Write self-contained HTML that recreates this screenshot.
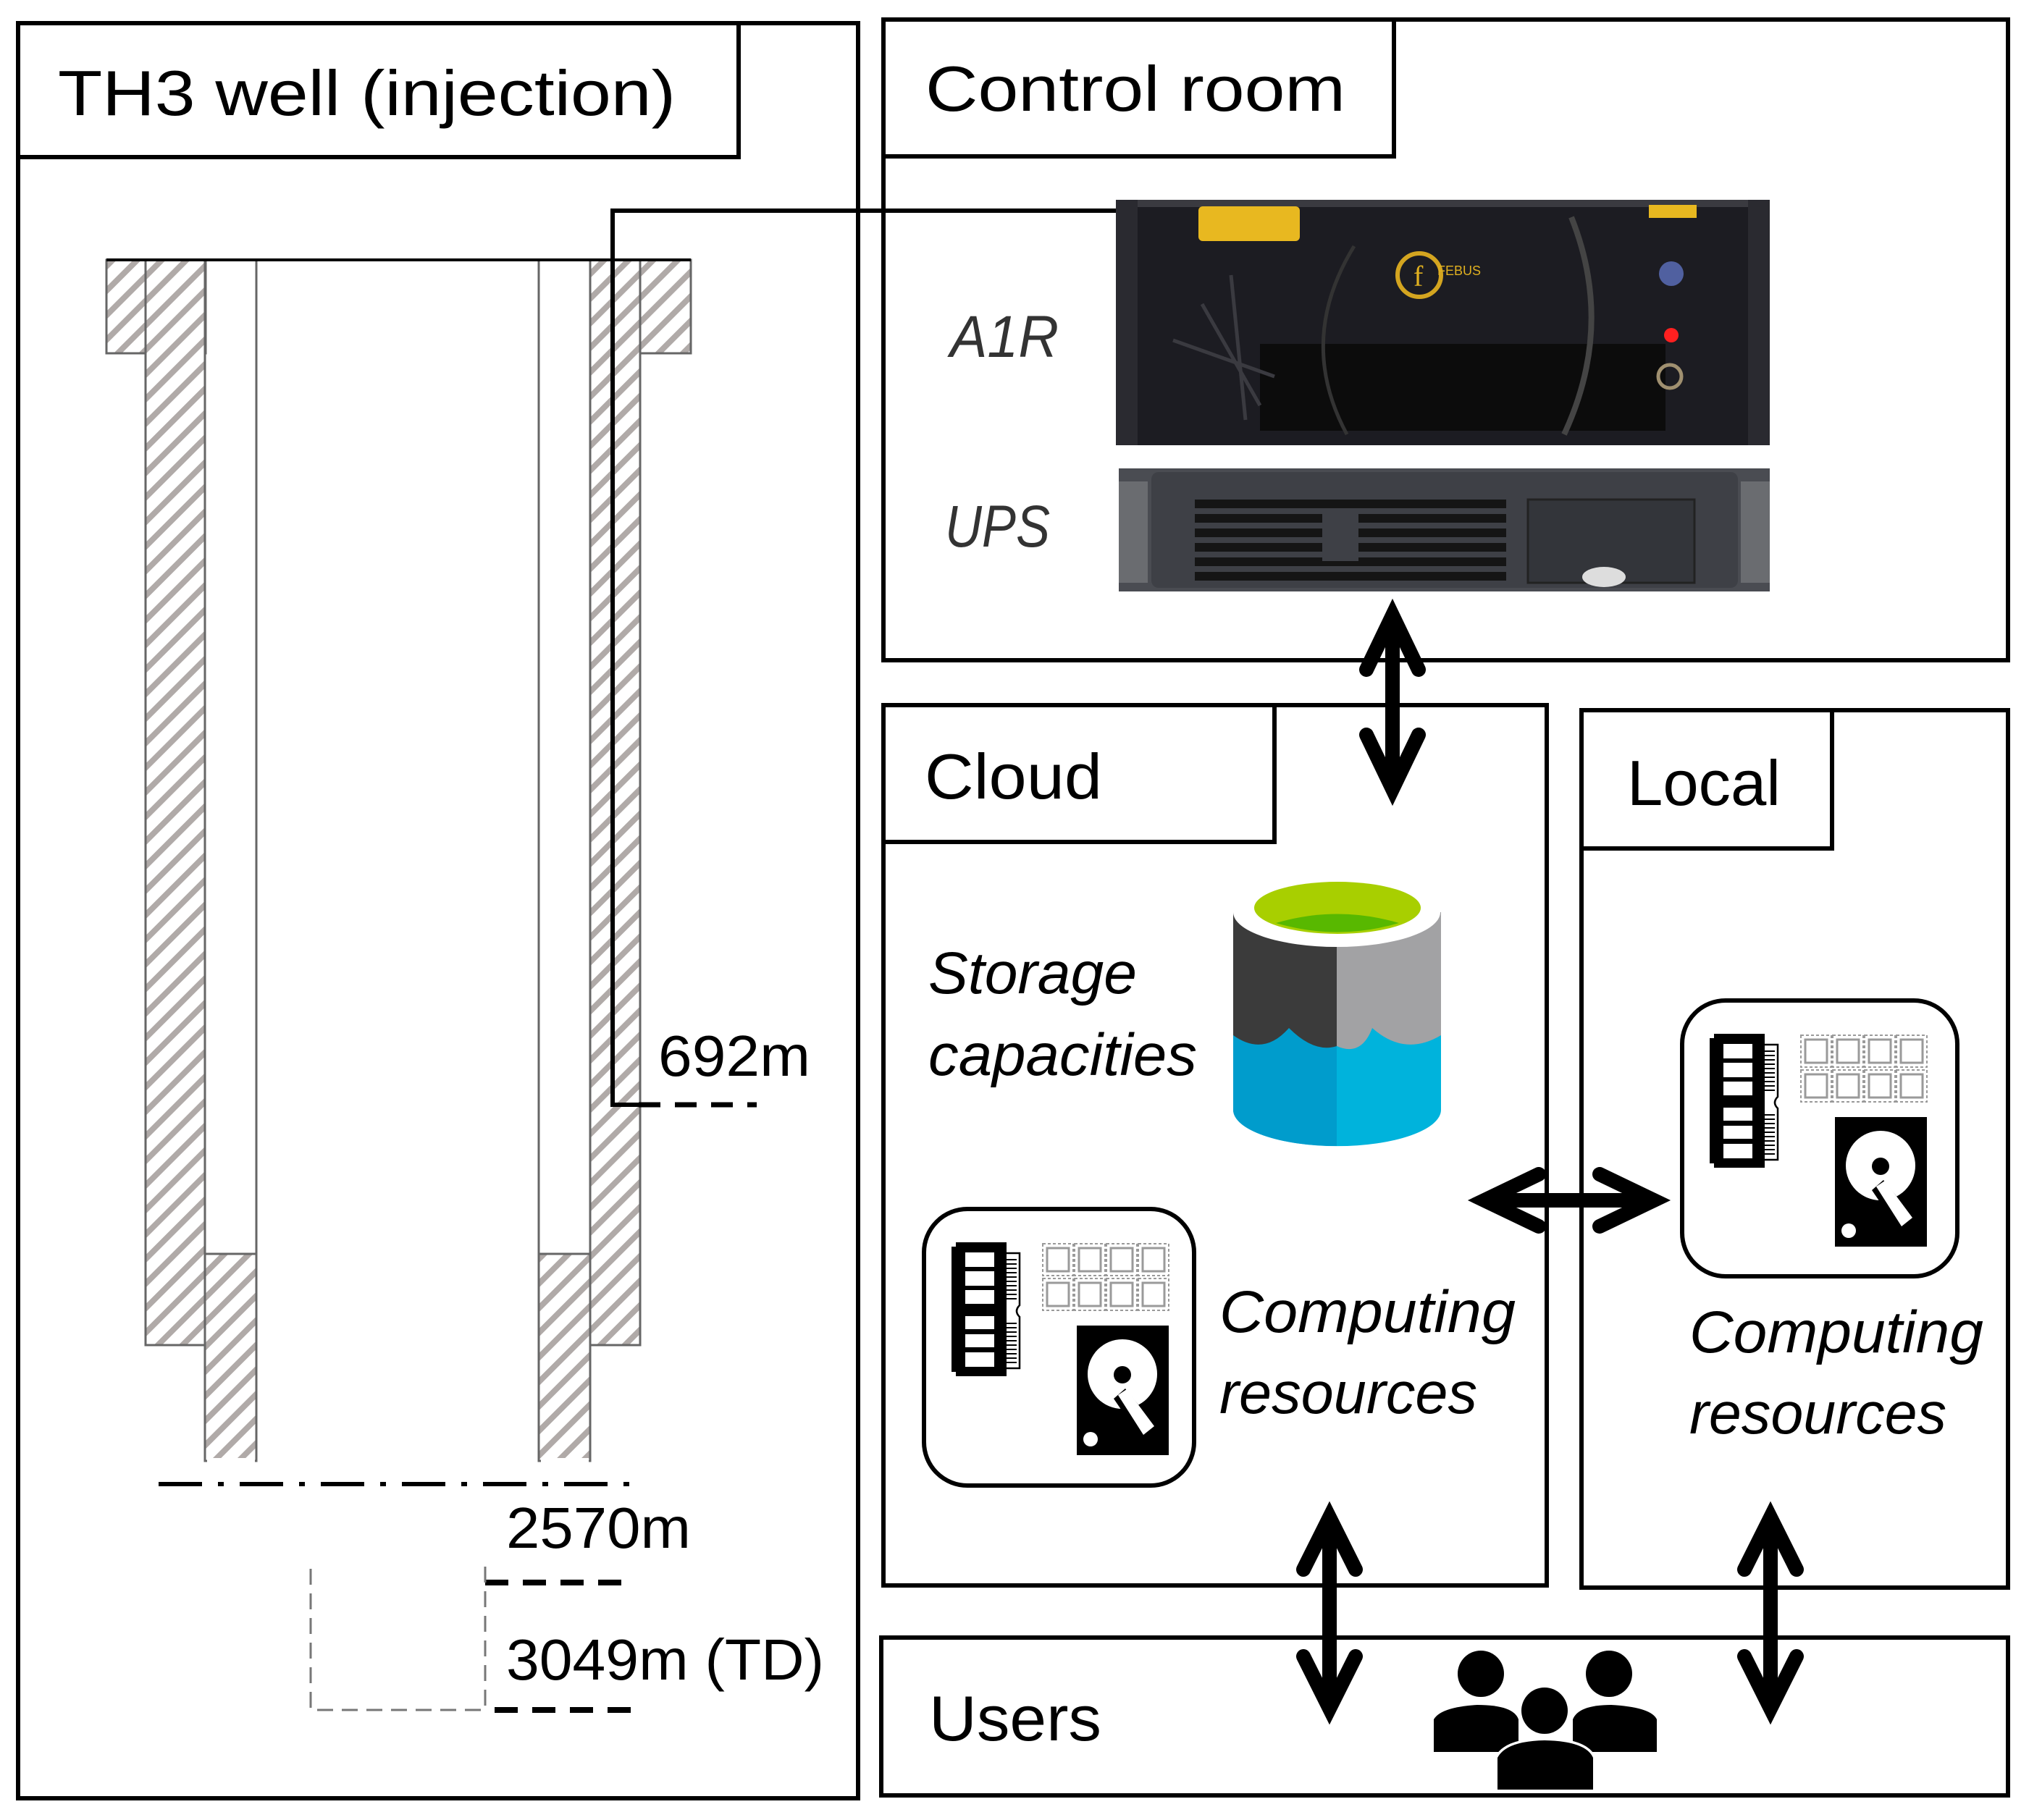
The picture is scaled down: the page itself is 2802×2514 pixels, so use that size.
<!DOCTYPE html>
<html><head><meta charset="utf-8"><style>html,body{margin:0;padding:0;background:#fff}svg{display:block}</style></head>
<body>
<svg xmlns="http://www.w3.org/2000/svg" width="2802" height="2514" viewBox="0 0 2802 2514">
<defs>
<pattern id="hatch" patternUnits="userSpaceOnUse" width="24" height="24" patternTransform="rotate(45)">
<rect width="24" height="24" fill="#fff"/><rect x="0" y="0" width="8" height="24" fill="#b0aaa8"/>
</pattern>
<g id="comp">
<rect x="44" y="46" width="70" height="185" fill="#000"/>
<rect x="38" y="52" width="8" height="173" fill="#000"/>
<g fill="#fff"><rect x="57" y="60" width="40" height="20"/><rect x="57" y="86" width="40" height="20"/><rect x="57" y="112" width="40" height="19"/><rect x="57" y="148" width="40" height="18"/><rect x="57" y="173" width="40" height="18"/><rect x="57" y="198" width="40" height="20"/></g>
<path d="M114 61 H132 V133 Q124 141 132 149 V220 H114" fill="none" stroke="#000" stroke-width="2.5"/>
<g stroke="#000" stroke-width="2"><path d="M114 70H128M114 76H128M114 82H128M114 88H128M114 94H128M114 100H128M114 106H128M114 112H128M114 118H128M114 124H128M114 158H128M114 164H128M114 170H128M114 176H128M114 182H128M114 188H128M114 194H128M114 200H128M114 206H128M114 212H128"/></g>
<g fill="none" stroke="#9a9a9a" stroke-width="3">
<rect x="170" y="54" width="30" height="32"/><rect x="214" y="54" width="30" height="32"/><rect x="258" y="54" width="30" height="32"/><rect x="302" y="54" width="30" height="32"/>
<rect x="170" y="102" width="30" height="32"/><rect x="214" y="102" width="30" height="32"/><rect x="258" y="102" width="30" height="32"/><rect x="302" y="102" width="30" height="32"/>
<rect x="164" y="48" width="42" height="44" stroke-dasharray="4 3" stroke-width="2"/><rect x="208" y="48" width="42" height="44" stroke-dasharray="4 3" stroke-width="2"/><rect x="252" y="48" width="42" height="44" stroke-dasharray="4 3" stroke-width="2"/><rect x="296" y="48" width="42" height="44" stroke-dasharray="4 3" stroke-width="2"/>
<rect x="164" y="96" width="42" height="44" stroke-dasharray="4 3" stroke-width="2"/><rect x="208" y="96" width="42" height="44" stroke-dasharray="4 3" stroke-width="2"/><rect x="252" y="96" width="42" height="44" stroke-dasharray="4 3" stroke-width="2"/><rect x="296" y="96" width="42" height="44" stroke-dasharray="4 3" stroke-width="2"/>
</g>
<rect x="211" y="161" width="127" height="179" fill="#000"/>
<circle cx="274" cy="228" r="48" fill="#fff"/>
<circle cx="274" cy="229" r="12" fill="#000"/>
<path d="M262 262 L278 248 L320 300 L300 318 Z" fill="#000"/>
<path d="M268 257 L280 249 L318 300 L303 312 Z" fill="#fff"/>
<circle cx="230" cy="318" r="10" fill="#fff"/>
</g>
</defs>

<g fill="none" stroke="#000" stroke-width="6">
<rect x="25" y="32" width="1160" height="2452"/>
<path d="M25 217 H1020 V32"/>
<rect x="1220" y="27" width="1553" height="885"/>
<path d="M1220 216 H1925 V27"/>
<rect x="1220" y="974" width="916" height="1216"/>
<path d="M1220 1163 H1760 V974"/>
<rect x="2184" y="981" width="589" height="1212"/>
<path d="M2184 1172 H2530 V981"/>
<rect x="1217" y="2262" width="1556" height="218"/>
</g>

<!-- well -->
<g stroke="#666" stroke-width="3">
<rect x="147" y="359" width="137" height="129" fill="url(#hatch)"/>
<rect x="201" y="359" width="82" height="1499" fill="url(#hatch)"/>
<rect x="815" y="359" width="139" height="129" fill="url(#hatch)"/>
<rect x="815" y="359" width="69" height="1499" fill="url(#hatch)"/>
<rect x="283" y="1732" width="71" height="286" fill="url(#hatch)" stroke-width="3"/>
<rect x="744" y="1732" width="71" height="286" fill="url(#hatch)"/>
<path d="M283 359 V2018 M354 359 V2018 M744 359 V2018 M815 359 V2018" fill="none"/>
</g>
<rect x="286" y="2014" width="66" height="8" fill="#fff"/><rect x="747" y="2014" width="66" height="8" fill="#fff"/>
<path d="M147 359 H954" stroke="#000" stroke-width="4"/>
<path d="M1541 291 H846 V1526 H882" fill="none" stroke="#000" stroke-width="6"/>
<path d="M882 1526 H1045" stroke="#000" stroke-width="7" stroke-dasharray="30 20"/>
<path d="M219 2050 H870" stroke="#000" stroke-width="6" stroke-dasharray="60 22 8 22"/>
<path d="M670 2186 H870" stroke="#000" stroke-width="8" stroke-dasharray="32 20"/>
<path d="M683 2362 H882" stroke="#000" stroke-width="8" stroke-dasharray="32 20"/>
<path d="M429 2167 V2362 H670 V2160" fill="none" stroke="#777" stroke-width="3" stroke-dasharray="22 12"/>

<g font-family="Liberation Sans, sans-serif" fill="#000">
<text x="80" y="159" font-size="88" textLength="853" lengthAdjust="spacingAndGlyphs">TH3 well (injection)</text>
<text x="1278" y="153" font-size="88" textLength="580" lengthAdjust="spacingAndGlyphs">Control room</text>
<text x="1277" y="1103" font-size="88" textLength="245" lengthAdjust="spacingAndGlyphs">Cloud</text>
<text x="2247" y="1112" font-size="88" textLength="212" lengthAdjust="spacingAndGlyphs">Local</text>
<text x="1283" y="2404" font-size="88" textLength="238" lengthAdjust="spacingAndGlyphs">Users</text>
<text x="909" y="1486" font-size="80" textLength="210" lengthAdjust="spacingAndGlyphs">692m</text>
<text x="699" y="2138" font-size="80" textLength="255" lengthAdjust="spacingAndGlyphs">2570m</text>
<text x="699" y="2320" font-size="80" textLength="439" lengthAdjust="spacingAndGlyphs">3049m (TD)</text>
</g>
<g font-family="Liberation Sans, sans-serif" font-style="italic" font-size="82">
<text x="1312" y="493" fill="#333" textLength="150" lengthAdjust="spacingAndGlyphs">A1R</text>
<text x="1305" y="755" fill="#333" textLength="145" lengthAdjust="spacingAndGlyphs">UPS</text>
<text x="1282" y="1372" fill="#000" textLength="288" lengthAdjust="spacingAndGlyphs">Storage</text>
<text x="1282" y="1485" fill="#000" textLength="371" lengthAdjust="spacingAndGlyphs">capacities</text>
<text x="1684" y="1840" fill="#000" textLength="409" lengthAdjust="spacingAndGlyphs">Computing</text>
<text x="1684" y="1952" fill="#000" textLength="356" lengthAdjust="spacingAndGlyphs">resources</text>
<text x="2333" y="1868" fill="#000" textLength="406" lengthAdjust="spacingAndGlyphs">Computing</text>
<text x="2333" y="1980" fill="#000" textLength="355" lengthAdjust="spacingAndGlyphs">resources</text>
</g>

<!-- A1R device -->
<rect x="1541" y="276" width="903" height="339" fill="#1c1c22"/>
<rect x="1541" y="276" width="903" height="10" fill="#3a3a40"/>
<rect x="1541" y="276" width="30" height="339" fill="#2a2a30"/><rect x="2414" y="276" width="30" height="339" fill="#2a2a30"/>
<rect x="1655" y="285" width="140" height="48" rx="6" fill="#e8b820"/>
<rect x="2277" y="283" width="66" height="18" fill="#e8b820"/>
<rect x="1740" y="475" width="560" height="120" fill="#0c0c0c"/>
<path d="M2170 300 Q2230 450 2160 600" stroke="#444" stroke-width="8" fill="none"/>
<path d="M1870 340 Q1790 470 1860 600" stroke="#333" stroke-width="5" fill="none"/>
<path d="M1660 420 L1740 560 M1700 380 L1720 580 M1620 470 L1760 520" stroke="#3a3a40" stroke-width="5"/>
<circle cx="1960" cy="380" r="30" fill="none" stroke="#d4a520" stroke-width="6"/>
<text x="1952" y="395" font-family="Liberation Serif, serif" font-size="40" fill="#e0b020">f</text>
<text x="1985" y="380" font-family="Liberation Sans, sans-serif" font-size="18" fill="#e0b020">FEBUS</text>
<circle cx="2308" cy="378" r="17" fill="#5060a0"/>
<circle cx="2308" cy="463" r="10" fill="#ff2020"/>
<circle cx="2306" cy="520" r="16" fill="none" stroke="#a09070" stroke-width="5"/>

<!-- UPS -->
<rect x="1545" y="647" width="899" height="170" fill="#4a4c52"/>
<rect x="1545" y="665" width="40" height="140" fill="#6a6c70"/><rect x="2404" y="665" width="40" height="140" fill="#6a6c70"/>
<rect x="1590" y="652" width="810" height="160" rx="10" fill="#3e4046"/>
<g fill="#151515"><rect x="1650" y="690" width="430" height="12"/><rect x="1650" y="710" width="430" height="12"/><rect x="1650" y="730" width="430" height="12"/><rect x="1650" y="750" width="430" height="12"/><rect x="1650" y="770" width="430" height="12"/><rect x="1650" y="790" width="430" height="12"/></g>
<rect x="1826" y="705" width="50" height="70" fill="#3e4046"/>
<rect x="2110" y="690" width="230" height="115" fill="#33353a" stroke="#222" stroke-width="3"/>
<ellipse cx="2215" cy="797" rx="30" ry="14" fill="#ddd"/>

<!-- cylinder -->
<path d="M1703 1260 V1533 A143 50 0 0 0 1990 1533 V1260 Z" fill="#00b3dc"/>
<path d="M1703 1260 V1533 A143 50 0 0 0 1846 1583 V1260 Z" fill="#009ccc"/>
<path d="M1703 1260 V1430 Q1745 1460 1780 1420 Q1815 1455 1846 1445 V1260 Z" fill="#3b3b3b"/>
<path d="M1846 1260 V1445 Q1880 1460 1895 1420 Q1940 1460 1990 1430 V1260 Z" fill="#a2a2a4"/>
<ellipse cx="1846" cy="1260" rx="143" ry="48" fill="#fff"/>
<ellipse cx="1847" cy="1254" rx="115" ry="36" fill="#a8cf00"/>
<path d="M1762 1275 Q1847 1250 1932 1275 Q1847 1300 1762 1275 Z" fill="#58b800"/>

<!-- compute icons -->
<rect x="1276" y="1670" width="373" height="382" rx="60" fill="none" stroke="#000" stroke-width="6"/>
<use href="#comp" x="1276" y="1670"/>
<rect x="2323" y="1382" width="380" height="381" rx="60" fill="none" stroke="#000" stroke-width="6"/>
<use href="#comp" x="2323" y="1382"/>

<!-- arrows -->
<g fill="none" stroke="#000" stroke-width="20" stroke-linejoin="miter" stroke-linecap="round">
<path d="M1923 850 V1090 M1887 925 L1923 850 L1959 925 M1887 1015 L1923 1090 L1959 1015"/>
<path d="M2050 1658 H2284 M2125 1622 L2050 1658 L2125 1694 M2209 1622 L2284 1658 L2209 1694"/>
<path d="M1836 2096 V2360 M1800 2168 L1836 2096 L1872 2168 M1800 2288 L1836 2360 L1872 2288"/>
<path d="M2445 2096 V2360 M2409 2168 L2445 2096 L2481 2168 M2409 2288 L2445 2360 L2481 2288"/>
</g>

<!-- users -->
<circle cx="2045" cy="2312" r="32"/><circle cx="2222" cy="2312" r="32"/>
<path d="M1980 2375 Q1990 2358 2040 2355 Q2090 2355 2097 2375 V2420 H1980 Z"/>
<path d="M2172 2375 Q2180 2355 2225 2355 Q2280 2358 2288 2375 V2420 H2172 Z"/>
<circle cx="2133" cy="2363" r="32" stroke="#fff" stroke-width="7"/>
<path d="M2068 2428 Q2080 2405 2133 2404 Q2190 2405 2200 2428 V2472 H2068 Z" stroke="#fff" stroke-width="7"/>
<circle cx="2133" cy="2363" r="32"/>
<path d="M2068 2428 Q2080 2405 2133 2404 Q2190 2405 2200 2428 V2472 H2068 Z"/>
</svg>
</body></html>
